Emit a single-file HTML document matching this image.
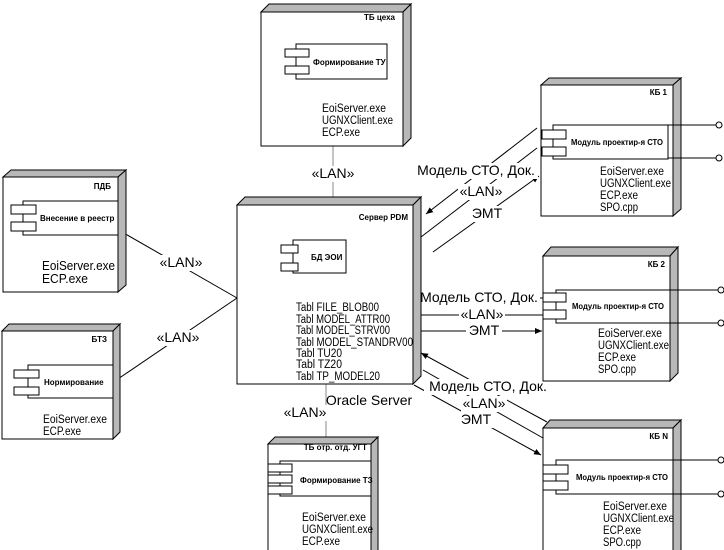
<!DOCTYPE html>
<html><head><meta charset="utf-8"><style>
html,body{margin:0;padding:0;background:#fff;}
svg{display:block;font-family:"Liberation Sans","DejaVu Sans",sans-serif;}
.b{font-size:8px;font-weight:bold;}
.t{font-size:11.5px;}
.l{font-size:14px;}
</style></head><body>
<svg width="724" height="550" viewBox="0 0 724 550">
<defs>
<marker id="ar" markerWidth="8" markerHeight="8" refX="7" refY="4" orient="auto" markerUnits="userSpaceOnUse">
<path d="M0,1 L7,4 L0,7 z" fill="#000"/></marker>
</defs>
<g stroke="#000" stroke-width="1" fill="none">
<line x1="333" y1="146" x2="333" y2="205" stroke="#888"/>
<line x1="122" y1="232" x2="237" y2="298"/>
<line x1="115" y1="381" x2="237" y2="298"/>
<line x1="326" y1="384" x2="326" y2="437" stroke="#888"/>
<line x1="537" y1="128" x2="426" y2="214" marker-end="url(#ar)"/>
<line x1="537" y1="148" x2="421" y2="237"/>
<line x1="433" y1="252" x2="539" y2="176" marker-end="url(#ar)"/>
<line x1="543" y1="298" x2="415" y2="298" marker-end="url(#ar)"/>
<line x1="418" y1="315" x2="543" y2="315"/>
<line x1="418" y1="331" x2="542" y2="331" marker-end="url(#ar)"/>
<line x1="547" y1="422" x2="421" y2="353" marker-end="url(#ar)"/>
<line x1="423" y1="370" x2="543" y2="438"/>
<line x1="414" y1="385" x2="541" y2="455" marker-end="url(#ar)"/>
</g>
<g fill="#fff">
<rect x="310" y="166" width="46" height="16"/>
<rect x="158" y="255" width="46" height="16"/>
<rect x="155" y="330" width="46" height="16"/>
<rect x="413" y="163" width="125" height="16"/>
<rect x="458" y="184" width="46" height="16"/>
<rect x="468" y="206" width="38" height="16"/>
<rect x="418" y="290" width="122" height="16"/>
<rect x="459" y="307" width="46" height="16"/>
<rect x="466" y="323" width="36" height="16"/>
<rect x="424" y="379" width="128" height="16"/>
<rect x="461" y="396" width="46" height="16"/>
<rect x="458" y="412" width="36" height="16"/>
<rect x="282" y="405" width="46" height="16"/>
</g>
<g class="l" text-anchor="middle">
<text x="333" y="178">«LAN»</text>
<text x="181" y="267">«LAN»</text>
<text x="178" y="342">«LAN»</text>
<text x="476" y="175">Модель СТО, Док.</text>
<text x="481" y="196">«LAN»</text>
<text x="487" y="218">ЭМТ</text>
<text x="479" y="302">Модель СТО, Док.</text>
<text x="482" y="319">«LAN»</text>
<text x="484" y="335">ЭМТ</text>
<text x="488" y="391">Модель СТО, Док.</text>
<text x="484" y="408">«LAN»</text>
<text x="476" y="424">ЭМТ</text>
<text x="305" y="417">«LAN»</text>
<text x="369" y="405">Oracle Server</text>
</g>

<g stroke="#000" stroke-width="1">
<polygon points="261,12 269,4 411,4 403,12" fill="#b8b8b8"/>
<polygon points="403,12 411,4 411,138 403,146" fill="#b8b8b8"/>
<rect x="261" y="12" width="142" height="134" fill="#fff"/>
<polygon points="237,205 245,197 421,197 413,205" fill="#b8b8b8"/>
<polygon points="413,205 421,197 421,376 413,384" fill="#b8b8b8"/>
<rect x="237" y="205" width="176" height="179" fill="#fff"/>
<polygon points="3,177 11,170 126,170 118,177" fill="#b8b8b8"/>
<polygon points="118,177 126,170 126,285 118,292" fill="#b8b8b8"/>
<rect x="3" y="177" width="115" height="115" fill="#fff"/>
<polygon points="2,331 9,324 120,324 113,331" fill="#b8b8b8"/>
<polygon points="113,331 120,324 120,432 113,439" fill="#b8b8b8"/>
<rect x="2" y="331" width="111" height="108" fill="#fff"/>
<polygon points="268,444 275,437 378,437 371,444" fill="#b8b8b8"/>
<polygon points="371,444 378,437 378,550 371,557" fill="#b8b8b8"/>
<rect x="268" y="444" width="103" height="110" fill="#fff"/>
<polygon points="541,85 549,78 681,78 673,85" fill="#b8b8b8"/>
<polygon points="673,85 681,78 681,209 673,216" fill="#b8b8b8"/>
<rect x="541" y="85" width="132" height="131" fill="#fff"/>
<polygon points="543,256 551,247 678,247 670,256" fill="#b8b8b8"/>
<polygon points="670,256 678,247 678,373 670,381" fill="#b8b8b8"/>
<rect x="543" y="256" width="127" height="125" fill="#fff"/>
<polygon points="543,428 550,420 681,420 673,428" fill="#b8b8b8"/>
<polygon points="673,428 681,420 681,550 673,558" fill="#b8b8b8"/>
<rect x="543" y="428" width="130" height="125" fill="#fff"/>
</g>

<g stroke="#000" stroke-width="1" fill="#fff">
<rect x="296" y="44" width="91" height="35"/><rect x="285" y="49" width="24" height="8"/><rect x="285" y="66" width="24" height="8"/>
<rect x="293" y="240" width="53" height="33"/><rect x="281" y="245" width="17" height="8"/><rect x="281" y="263" width="17" height="8"/>
<rect x="23" y="201" width="95" height="34"/><rect x="11" y="205" width="25" height="9"/><rect x="11" y="222" width="25" height="9"/>
<rect x="28" y="365" width="85" height="33"/><rect x="14" y="370" width="25" height="8"/><rect x="14" y="387" width="25" height="8"/>
<rect x="280" y="461" width="91" height="35"/><rect x="268" y="464" width="24" height="8"/><rect x="268" y="475" width="24" height="8"/><rect x="268" y="486" width="24" height="8"/>
<rect x="553" y="125" width="115" height="34"/><rect x="542" y="130" width="24" height="9"/><rect x="542" y="147" width="24" height="9"/>
<rect x="556" y="290" width="114" height="33"/><rect x="543" y="293" width="23" height="9"/><rect x="543" y="310" width="23" height="9"/>
<rect x="556" y="460" width="117" height="34"/><rect x="543" y="465" width="25" height="9"/><rect x="543" y="481" width="25" height="9"/>
</g>
<g stroke="#000" stroke-width="1" fill="#fff">
<line x1="668" y1="125" x2="716" y2="125"/><line x1="668" y1="158" x2="716" y2="158"/>
<circle cx="719" cy="125" r="3"/><circle cx="719" cy="158" r="3"/>
<line x1="670" y1="290" x2="718" y2="290"/><line x1="670" y1="323" x2="718" y2="323"/>
<circle cx="721" cy="290" r="3"/><circle cx="721" cy="323" r="3"/>
<line x1="673" y1="460" x2="718" y2="460"/><line x1="673" y1="494" x2="718" y2="494"/>
<circle cx="721" cy="460" r="3"/><circle cx="721" cy="494" r="3"/>
</g>

<g class="b" text-anchor="end">
<text x="395" y="20">ТБ цеха</text>
<text x="408" y="220">Сервер PDM</text>
<text x="111" y="189">ПДБ</text>
<text x="107" y="342">БТЗ</text>
<text x="367" y="450">ТБ отр. отд. УГТ</text>
<text x="667" y="95">КБ 1</text>
<text x="665" y="267">КБ 2</text>
<text x="668" y="439">КБ N</text>
</g>
<g class="b">
<text x="313" y="65">Формирование ТУ</text>
<text x="311" y="260">БД ЭОИ</text>
<text x="40" y="221">Внесение в реестр</text>
<text x="44" y="385">Нормирование</text>
<text x="300" y="483">Формирование ТЗ</text>
<text x="571" y="145" textLength="92" lengthAdjust="spacingAndGlyphs">Модуль проектир-я СТО</text>
<text x="572" y="309" textLength="92" lengthAdjust="spacingAndGlyphs">Модуль проектир-я СТО</text>
<text x="576" y="480" textLength="92" lengthAdjust="spacingAndGlyphs">Модуль проектир-я СТО</text>
</g>
<g class="t" lengthAdjust="spacingAndGlyphs">
<text x="322" y="112" textLength="64" lengthAdjust="spacingAndGlyphs">EoiServer.exe</text><text x="322" y="124" textLength="71" lengthAdjust="spacingAndGlyphs">UGNXClient.exe</text><text x="322" y="136" textLength="38" lengthAdjust="spacingAndGlyphs">ECP.exe</text>
<text x="296" y="311" textLength="83" lengthAdjust="spacingAndGlyphs">Tabl FILE_BLOB00</text><text x="296" y="323" textLength="94" lengthAdjust="spacingAndGlyphs">Tabl MODEL_ATTR00</text><text x="296" y="334" textLength="94" lengthAdjust="spacingAndGlyphs">Tabl MODEL_STRV00</text><text x="296" y="346" textLength="117" lengthAdjust="spacingAndGlyphs">Tabl MODEL_STANDRV00</text><text x="296" y="357" textLength="46" lengthAdjust="spacingAndGlyphs">Tabl TU20</text><text x="296" y="368" textLength="46" lengthAdjust="spacingAndGlyphs">Tabl TZ20</text><text x="296" y="380" textLength="84" lengthAdjust="spacingAndGlyphs">Tabl TP_MODEL20</text>
<text x="42" y="270" style="font-size:12.5px" textLength="73" lengthAdjust="spacingAndGlyphs">EoiServer.exe</text><text x="42" y="283" style="font-size:12.5px" textLength="46" lengthAdjust="spacingAndGlyphs">ECP.exe</text>
<text x="43" y="423" textLength="64" lengthAdjust="spacingAndGlyphs">EoiServer.exe</text><text x="43" y="435" textLength="38" lengthAdjust="spacingAndGlyphs">ECP.exe</text>
<text x="302" y="521" textLength="64" lengthAdjust="spacingAndGlyphs">EoiServer.exe</text><text x="302" y="533" textLength="71" lengthAdjust="spacingAndGlyphs">UGNXClient.exe</text><text x="302" y="545" textLength="38" lengthAdjust="spacingAndGlyphs">ECP.exe</text>
<text x="600" y="175" textLength="64" lengthAdjust="spacingAndGlyphs">EoiServer.exe</text><text x="600" y="187" textLength="71" lengthAdjust="spacingAndGlyphs">UGNXClient.exe</text><text x="600" y="199" textLength="38" lengthAdjust="spacingAndGlyphs">ECP.exe</text><text x="600" y="211" textLength="38" lengthAdjust="spacingAndGlyphs">SPO.cpp</text>
<text x="598" y="337" textLength="64" lengthAdjust="spacingAndGlyphs">EoiServer.exe</text><text x="598" y="349" textLength="71" lengthAdjust="spacingAndGlyphs">UGNXClient.exe</text><text x="598" y="361" textLength="38" lengthAdjust="spacingAndGlyphs">ECP.exe</text><text x="598" y="373" textLength="38" lengthAdjust="spacingAndGlyphs">SPO.cpp</text>
<text x="603" y="510" textLength="64" lengthAdjust="spacingAndGlyphs">EoiServer.exe</text><text x="603" y="522" textLength="71" lengthAdjust="spacingAndGlyphs">UGNXClient.exe</text><text x="603" y="534" textLength="38" lengthAdjust="spacingAndGlyphs">ECP.exe</text><text x="603" y="546" textLength="38" lengthAdjust="spacingAndGlyphs">SPO.cpp</text>
</g>
</svg>
</body></html>
